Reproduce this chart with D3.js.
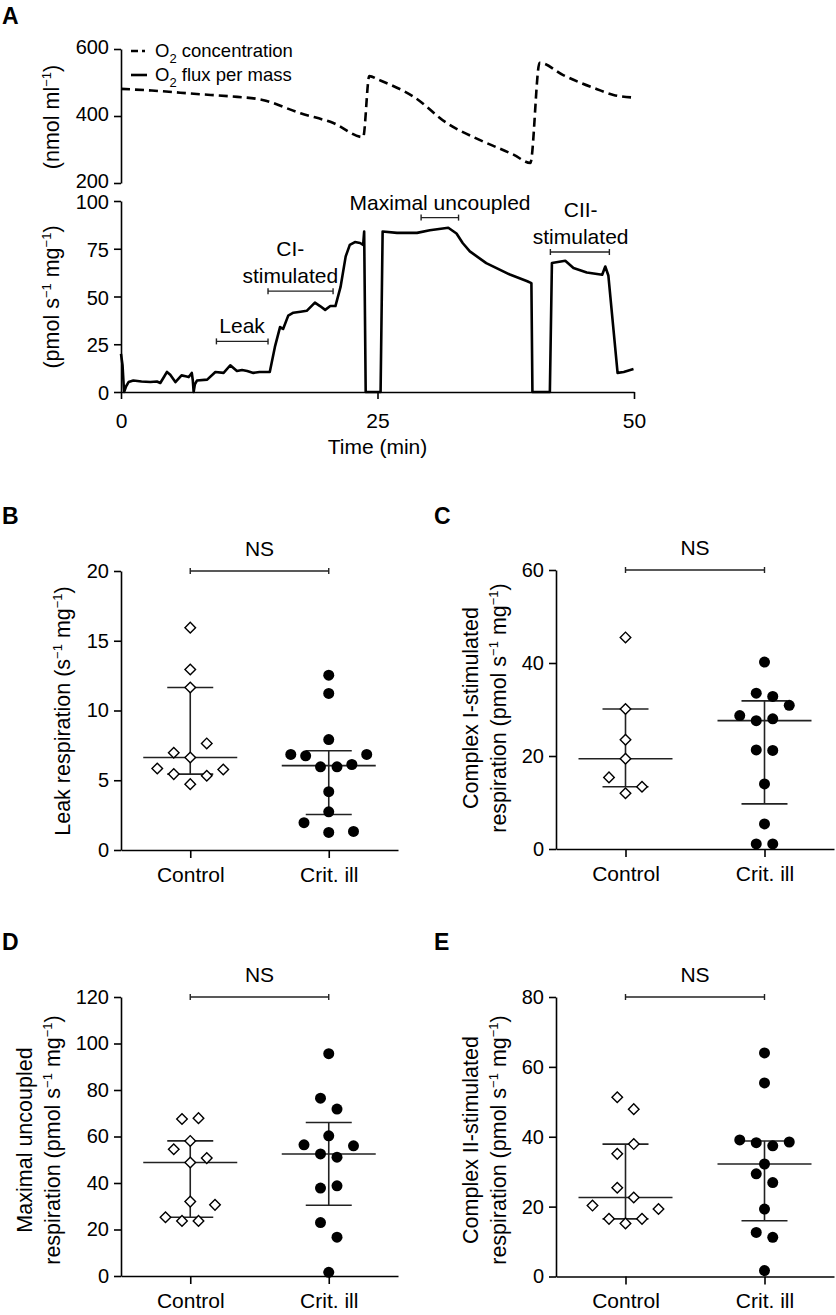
<!DOCTYPE html>
<html><head><meta charset="utf-8">
<script src="https://cdn.jsdelivr.net/npm/d3@7"></script>
<style>
html,body{margin:0;padding:0;background:#fff;}
svg{display:block;font-family:"Liberation Sans",Arial,Helvetica,sans-serif;}
</style></head>
<body>
<svg id="chart" width="836" height="1315"></svg>
<script>
// ---------- Panel A data ----------
const concTime  = [0, 3, 7.7, 10.5, 13.8, 17.5, 20.7, 23.6, 24.2, 25.2, 28.5, 31.8, 35.0, 38.3, 39.9, 40.8, 43.1, 46.4, 48.0, 49.96];
const concValue = [481, 476, 465, 459, 448, 408, 379, 337, 519, 507, 458, 378, 328, 284, 260, 559, 522, 480, 463, 455];

const fluxTime = [0, 0.15, 0.3, 0.5, 0.74, 1.2, 2.0, 2.86, 3.5, 3.83, 4.2, 4.48, 4.8, 5.3, 5.9, 6.3, 6.6, 6.9, 7.0, 7.08, 7.2, 7.4, 8.4, 9.2, 10.0, 10.65, 11.3, 11.8, 12.3, 12.9, 13.5, 14.2, 14.5, 15.0, 15.5, 15.8, 16.3, 16.8, 17.5, 18.1, 18.9, 19.4, 19.9, 20.4, 20.9, 21.4, 21.9, 22.3, 22.8, 23.3, 23.6, 23.7, 23.85, 25.3, 25.5, 26.9, 28.85, 30.1, 31.9, 32.7, 33.3, 34.0, 35.6, 37.9, 39.6, 40.0, 40.1, 41.8, 42.0, 43.3, 44.1, 45.4, 46.9, 47.2, 47.5, 48.0, 48.4, 49.0, 49.95];
const fluxRate = [20, 14, 0, 3, 5.2, 6, 5.5, 5.2, 5.5, 4.7, 8, 10.5, 9, 5.2, 8.7, 8.2, 7.8, 10.0, 6, 0, 4, 6, 6.5, 10.5, 10, 14, 11, 11.5, 11, 10, 10.5, 10.5, 10.5, 23.6, 34, 33, 40, 41.5, 42, 42.5, 46.8, 45, 43, 45, 45, 55, 71, 77, 78.5, 78, 77, 84, 0, 0, 84, 83.3, 83.3, 84.7, 86, 83, 78, 73.6, 67.5, 61.5, 58, 57, 0, 0, 67.5, 68.7, 64.9, 62.6, 61.4, 65.7, 61, 32.7, 10, 10.5, 12];

const concTicks = [200, 400, 600];
const fluxTicks = [0, 25, 50, 75, 100];
const timeTicks = [0, 25, 50];

const phaseLabels = [["Leak"], ["CI-", "stimulated"], ["Maximal uncoupled"], ["CII-", "stimulated"]];
const phaseStart  = [9.3, 14.33, 29.25, 41.85];
const phaseEnd    = [14.33, 20.67, 32.9, 47.6];
const phaseLevel  = [26.5, 52.8, 91.3, 73.3];
const phaseTextT  = [11.8, 16.5, 31.1, 44.8];

// ---------- Scatter panels data ----------
const groups = ["Control", "Crit. ill"];

const leakControl     = [15.94, 12.94, 11.65, 7.64, 6.97, 6.63, 5.84, 5.77, 5.44, 5.32, 4.72];
const leakControlSlot = [0, 0, 0, 1, -1, 0, -2, 2, -1, 1, 0];
const leakCrit        = [12.53, 11.22, 7.92, 6.85, 6.75, 6.85, 5.96, 5.96, 6.13, 4.18, 2.74, 1.96, 1.26, 1.33];
const leakCritSlot    = [0, 0, 0, -2.3, -1.4, 2.3, -0.5, 0.5, 1.4, 0, 0, -1.5, 0, 1.5];
const leakTicks = [0, 5, 10, 15, 20];

const ciControl     = [45.5, 30.1, 23.5, 19.4, 15.4, 13.4, 12.0];
const ciControlSlot = [0, 0, 0, 0, -1, 1, 0];
const ciCrit        = [40.2, 33.5, 32.8, 30.9, 28.7, 27.6, 28.0, 21.3, 21.2, 14.0, 5.4, 1.1, 1.1];
const ciCritSlot    = [0, -0.5, 0.5, 1.5, -1.5, -0.5, 0.5, -0.5, 0.5, 0, 0, -0.5, 0.5];
const ciTicks = [0, 20, 40, 60];

const maxControl     = [67.5, 67.9, 58.1, 54.5, 50.7, 48.8, 32.0, 30.6, 25.3, 23.7, 23.7];
const maxControlSlot = [-0.5, 0.5, 0, -1, 1, 0, 0, 1.5, -1.5, -0.5, 0.5];
const maxCrit        = [95.6, 76.5, 71.8, 60.3, 56.4, 56.0, 52.5, 51.1, 37.8, 38.8, 23.0, 16.7, 1.6];
const maxCritSlot    = [0, -0.5, 0.5, 0, -1.5, 1.5, -0.5, 0.5, -0.5, 0.5, -0.5, 0.5, 0];
const maxTicks = [0, 20, 40, 60, 80, 100, 120];

const ciiControl     = [51.3, 47.9, 37.9, 35.1, 25.4, 22.6, 20.3, 19.3, 16.5, 16.5, 15.2];
const ciiControlSlot = [-0.5, 0.5, 0.5, -0.5, -0.5, 0.5, -2, 2, -1, 1, 0];
const ciiCrit        = [64.0, 55.4, 39.1, 38.3, 37.4, 38.5, 32.2, 29.4, 26.9, 19.3, 12.6, 11.2, 1.7];
const ciiCritSlot    = [0, 0, -1.5, -0.5, 0.5, 1.5, 0, -0.5, 0.5, 0, -0.5, 0.5, 0];
const ciiTicks = [0, 20, 40, 60, 80];

// ---------- drawing ----------
const svg = d3.select("#chart");
const FS = 21;     // labels
const LFS = 21.5;  // y-axis titles
const TFS = 20;    // tick numbers
const SUP = 13;

function richText(sel, parts) {
  let shift = 0;
  parts.forEach(([t, mode]) => {
    const target = mode === 1 ? -8 : mode === -1 ? 6 : 0;
    const ts = sel.append("tspan").attr("dy", target - shift).text(t);
    if (mode !== 0) ts.attr("font-size", SUP);
    shift = target;
  });
}

function styleAxis(g, fs) {
  g.selectAll("path.domain").attr("stroke", "#000").attr("stroke-width", 1.6);
  g.selectAll(".tick line").attr("stroke", "#000").attr("stroke-width", 1.6);
  g.selectAll(".tick text").attr("font-size", fs || TFS).attr("fill", "#000")
    .attr("font-family", '"Liberation Sans",Arial,Helvetica,sans-serif');
}

function panelLetter(x, y, t) {
  svg.append("text").attr("x", x).attr("y", y).attr("font-size", 23)
    .attr("font-weight", "bold").text(t);
}

// ---------- Panel A ----------
panelLetter(2, 24, "A");
const xA = d3.scaleLinear().domain([0, 50]).range([121, 634]);
const yConc = d3.scaleLinear().domain([200, 600]).range([183, 49]);
const yFlux = d3.scaleLinear().domain([0, 100]).range([392, 201]);

svg.append("g").attr("transform", "translate(121,0)")
  .call(d3.axisLeft(yConc).tickValues(concTicks).tickSize(7).tickSizeOuter(0).tickPadding(5))
  .call(g => styleAxis(g))
  .call(g => g.selectAll(".tick text").attr("dy", "0.2em"));
svg.append("g").attr("transform", "translate(121,0)")
  .call(d3.axisLeft(yFlux).tickValues(fluxTicks).tickSize(7).tickSizeOuter(0).tickPadding(5))
  .call(g => styleAxis(g))
  .call(g => g.selectAll(".tick text").attr("dy", "0.38em"));
svg.append("g").attr("transform", "translate(0,392)")
  .call(d3.axisBottom(xA).tickValues(timeTicks).tickSize(7).tickSizeOuter(0).tickPadding(14))
  .call(g => styleAxis(g, FS));

const concData = concTime.map((t, i) => [t, concValue[i]]);
svg.append("path").datum(concData)
  .attr("fill", "none").attr("stroke", "#000").attr("stroke-width", 2.6)
  .attr("stroke-dasharray", "9,5")
  .attr("d", d3.line().x(d => xA(d[0])).y(d => yConc(d[1])).curve(d3.curveMonotoneX));

const fluxData = fluxTime.map((t, i) => [t, fluxRate[i]]);
svg.append("path").datum(fluxData)
  .attr("fill", "none").attr("stroke", "#000").attr("stroke-width", 2.6)
  .attr("stroke-linejoin", "round")
  .attr("d", d3.line().x(d => xA(d[0])).y(d => yFlux(d[1])));

// legend
svg.append("line").attr("x1", 131).attr("x2", 145).attr("y1", 51).attr("y2", 51)
  .attr("stroke", "#000").attr("stroke-width", 2.6).attr("stroke-dasharray", "7,4");
svg.append("line").attr("x1", 131).attr("x2", 147).attr("y1", 75).attr("y2", 75)
  .attr("stroke", "#000").attr("stroke-width", 2.6);
richText(svg.append("text").attr("x", 155).attr("y", 57).attr("font-size", 18.5),
  [["O", 0], ["2", -1], [" concentration", 0]]);
richText(svg.append("text").attr("x", 155).attr("y", 81).attr("font-size", 18.5),
  [["O", 0], ["2", -1], [" flux per mass", 0]]);

// axis labels A
richText(svg.append("text").attr("transform", "translate(59,117) rotate(-90)")
  .attr("text-anchor", "middle").attr("font-size", LFS),
  [["(nmol ml", 0], ["−1", 1], [")", 0]]);
richText(svg.append("text").attr("transform", "translate(59,297) rotate(-90)")
  .attr("text-anchor", "middle").attr("font-size", LFS),
  [["(pmol s", 0], ["−1", 1], [" mg", 0], ["−1", 1], [")", 0]]);
svg.append("text").attr("x", xA(25)).attr("y", 454).attr("text-anchor", "middle")
  .attr("font-size", FS).text("Time (min)");

// phase annotations
phaseLabels.forEach((lines, i) => {
  const yb = yFlux(phaseLevel[i]);
  const x1 = xA(phaseStart[i]), x2 = xA(phaseEnd[i]);
  const g = svg.append("g").attr("stroke", "#222").attr("stroke-width", 1.4);
  g.append("line").attr("x1", x1).attr("x2", x2).attr("y1", yb).attr("y2", yb);
  g.append("line").attr("x1", x1).attr("x2", x1).attr("y1", yb - 3).attr("y2", yb + 3);
  g.append("line").attr("x1", x2).attr("x2", x2).attr("y1", yb - 3).attr("y2", yb + 3);
  lines.forEach((ln, j) => {
    svg.append("text").attr("x", xA(phaseTextT[i]))
      .attr("y", yb - 8 - (lines.length - 1 - j) * 27)
      .attr("text-anchor", "middle").attr("font-size", FS).text(ln);
  });
});

// ---------- scatter panels ----------
function prismQuantile(values, p) {
  const s = values.slice().sort((a, b) => a - b);
  const n = s.length;
  const pos = p * (n + 1);
  const lo = Math.floor(pos);
  const frac = pos - lo;
  if (lo < 1) return s[0];
  if (lo >= n) return s[n - 1];
  return s[lo - 1] + frac * (s[lo] - s[lo - 1]);
}

const SLOT = 16.5;
const diamond = d3.symbol().type(d3.symbolSquare).size(56)();

function scatterPanel(cfg) {
  const { x0, x1, yBottom, yTop, max, ticks, ctrl, ctrlSlot, crit, critSlot, labelLines, labelX, labelY, letter, letterX, letterY } = cfg;
  panelLetter(letterX, letterY, letter);
  const x = d3.scalePoint().domain(groups).range([x0, x1]).padding(0.5);
  const y = d3.scaleLinear().domain([0, max]).range([yBottom, yTop]);

  svg.append("g").attr("transform", `translate(${x0},0)`)
    .call(d3.axisLeft(y).tickValues(ticks).tickSize(7).tickSizeOuter(0).tickPadding(5))
    .call(g => styleAxis(g));
  svg.append("g").attr("transform", `translate(0,${yBottom})`)
    .call(d3.axisBottom(x).tickSize(8).tickSizeOuter(0).tickPadding(9))
    .call(g => styleAxis(g, FS));

  // NS bracket
  const by = y(max);
  const bg = svg.append("g").attr("stroke", "#222").attr("stroke-width", 1.4);
  bg.append("line").attr("x1", x(groups[0])).attr("x2", x(groups[1])).attr("y1", by).attr("y2", by);
  bg.append("line").attr("x1", x(groups[0])).attr("x2", x(groups[0])).attr("y1", by - 3).attr("y2", by + 3);
  bg.append("line").attr("x1", x(groups[1])).attr("x2", x(groups[1])).attr("y1", by - 3).attr("y2", by + 3);
  svg.append("text").attr("x", (x(groups[0]) + x(groups[1])) / 2).attr("y", by - 15)
    .attr("text-anchor", "middle").attr("font-size", FS).text("NS");

  // y label
  labelLines.forEach((parts, j) => {
    richText(svg.append("text")
      .attr("transform", `translate(${labelX + j * 28},${labelY}) rotate(-90)`)
      .attr("text-anchor", "middle").attr("font-size", LFS), parts);
  });

  // median + IQR
  [[ctrl, groups[0]], [crit, groups[1]]].forEach(([vals, gname]) => {
    const cx = x(gname);
    const med = d3.median(vals), q1 = prismQuantile(vals, 0.25), q3 = prismQuantile(vals, 0.75);
    const g = svg.append("g").attr("stroke", "#222").attr("stroke-width", 1.6);
    g.append("line").attr("x1", cx).attr("x2", cx).attr("y1", y(q1)).attr("y2", y(q3));
    g.append("line").attr("x1", cx - 47).attr("x2", cx + 47).attr("y1", y(med)).attr("y2", y(med));
    g.append("line").attr("x1", cx - 23).attr("x2", cx + 23).attr("y1", y(q1)).attr("y2", y(q1));
    g.append("line").attr("x1", cx - 23).attr("x2", cx + 23).attr("y1", y(q3)).attr("y2", y(q3));
  });

  // points
  svg.append("g").selectAll("path").data(ctrl).join("path")
    .attr("d", diamond)
    .attr("transform", (d, i) => `translate(${x(groups[0]) + ctrlSlot[i] * SLOT},${y(d)}) rotate(45)`)
    .attr("fill", "#fff").attr("stroke", "#000").attr("stroke-width", 1.4);
  svg.append("g").selectAll("circle").data(crit).join("circle")
    .attr("cx", (d, i) => x(groups[1]) + critSlot[i] * SLOT)
    .attr("cy", d => y(d)).attr("r", 5.5).attr("fill", "#000");
}

const unitParts = [["respiration (pmol s", 0], ["−1", 1], [" mg", 0], ["−1", 1], [")", 0]];

scatterPanel({ x0: 121, x1: 398, yBottom: 850, yTop: 571, max: 20, ticks: leakTicks,
  ctrl: leakControl, ctrlSlot: leakControlSlot, crit: leakCrit, critSlot: leakCritSlot,
  labelLines: [[["Leak respiration (s", 0], ["−1", 1], [" mg", 0], ["−1", 1], [")", 0]]],
  labelX: 70, labelY: 711, letter: "B", letterX: 2, letterY: 524 });

scatterPanel({ x0: 556, x1: 834, yBottom: 849, yTop: 570, max: 60, ticks: ciTicks,
  ctrl: ciControl, ctrlSlot: ciControlSlot, crit: ciCrit, critSlot: ciCritSlot,
  labelLines: [[["Complex I-stimulated", 0]], unitParts],
  labelX: 478, labelY: 708, letter: "C", letterX: 434, letterY: 524 });

scatterPanel({ x0: 121, x1: 398, yBottom: 1276, yTop: 997, max: 120, ticks: maxTicks,
  ctrl: maxControl, ctrlSlot: maxControlSlot, crit: maxCrit, critSlot: maxCritSlot,
  labelLines: [[["Maximal uncoupled", 0]], unitParts],
  labelX: 32, labelY: 1140, letter: "D", letterX: 2, letterY: 950 });

scatterPanel({ x0: 556, x1: 834, yBottom: 1276.5, yTop: 997, max: 80, ticks: ciiTicks,
  ctrl: ciiControl, ctrlSlot: ciiControlSlot, crit: ciiCrit, critSlot: ciiCritSlot,
  labelLines: [[["Complex II-stimulated", 0]], unitParts],
  labelX: 478, labelY: 1140, letter: "E", letterX: 434, letterY: 950 });
</script>
</body></html>
